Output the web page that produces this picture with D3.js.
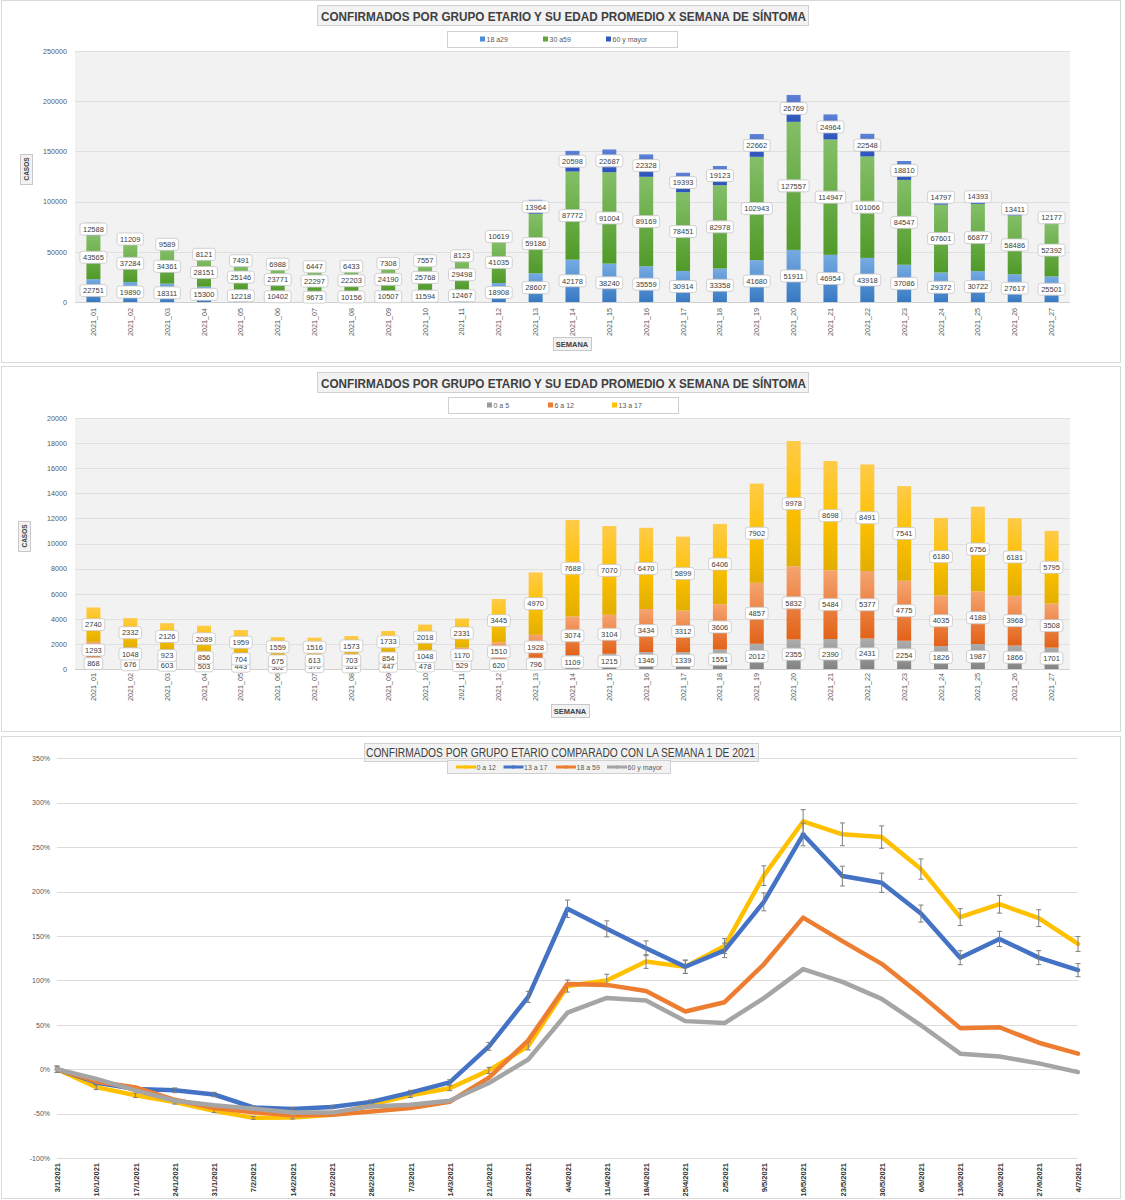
<!DOCTYPE html>
<html><head><meta charset="utf-8">
<script src="https://cdn.jsdelivr.net/npm/d3@7"></script>
<style>body{margin:0;background:#fff}svg{display:block}</style>
</head><body>
<svg id="c" width="1125" height="1200"></svg>
<script>
// ---------- DATA ----------
const weeks = ["2021_01","2021_02","2021_03","2021_04","2021_05","2021_06","2021_07","2021_08","2021_09","2021_10","2021_11","2021_12","2021_13","2021_14","2021_15","2021_16","2021_17","2021_18","2021_19","2021_20","2021_21","2021_22","2021_23","2021_24","2021_25","2021_26","2021_27"];
const g18a29 = [22751,19890,18311,15300,12218,10402,9673,10156,10507,11594,12467,18908,28607,42178,38240,35559,30914,33358,41680,51911,46954,43918,37086,29372,30722,27617,25501];
const g30a59 = [43565,37284,34361,28151,25146,23771,22297,22203,24190,25768,29498,41035,59186,87772,91004,89169,78451,82978,102943,127557,114947,101066,84547,67601,66877,58486,52392];
const g60mas = [12588,11209,9589,8121,7491,6988,6447,6433,7308,7557,8123,10619,13964,20598,22687,22328,19393,19123,22662,26769,24964,22548,18810,14797,14393,13411,12177];
const g60masShown = [1,1,1,1,1,1,1,1,1,1,1,1,1,1,1,1,1,1,1,1,1,1,1,0,0,0,0];
const g0a5 = [868,676,603,503,443,302,370,351,447,478,529,620,796,1109,1215,1346,1339,1551,2012,2355,2390,2431,2254,1826,1987,1866,1701];
const g6a12 = [1293,1048,923,856,704,675,613,703,854,1048,1170,1510,1928,3074,3104,3434,3312,3606,4857,5832,5484,5377,4775,4035,4188,3968,3508];
const g13a17 = [2740,2332,2126,2089,1959,1559,1516,1573,1733,2018,2331,3445,4970,7688,7070,6470,5899,6406,7902,9978,8698,8491,7541,6180,6756,6181,5795];
const topTicks = [0,50000,100000,150000,200000,250000];
const midTicks = [0,2000,4000,6000,8000,10000,12000,14000,16000,18000,20000];

const dates = ["3/1/2021","10/1/2021","17/1/2021","24/1/2021","31/1/2021","7/2/2021","14/2/2021","21/2/2021","28/2/2021","7/3/2021","14/3/2021","21/3/2021","28/3/2021","4/4/2021","11/4/2021","18/4/2021","25/4/2021","2/5/2021","9/5/2021","16/5/2021","23/5/2021","30/5/2021","6/6/2021","13/6/2021","20/6/2021","27/6/2021","4/7/2021"];
const pct0a12 = [0,-20.2,-29.4,-37.1,-46.9,-54.8,-54.5,-51.2,-39.8,-29.4,-21.4,-1.4,26.1,93.6,99.9,121.2,115.2,138.6,217.9,278.9,264.4,261.3,225.3,171.2,185.7,170.0,141.0];
const pct13a17 = [0,-14.9,-22.4,-23.8,-28.5,-43.1,-44.7,-42.6,-36.8,-26.4,-14.9,25.7,81.4,180.6,158.0,136.1,115.3,133.8,188.4,264.2,217.4,209.9,175.2,125.5,146.6,125.6,111.5];
const pct18a59 = [0,-13.8,-20.6,-34.5,-43.7,-48.5,-51.8,-51.2,-47.7,-43.7,-36.7,-9.6,32.4,96.0,94.9,88.1,64.9,75.4,118.1,170.6,144.1,118.6,83.4,46.2,47.2,29.8,17.5];
const pct60mas = [0,-11.0,-23.8,-35.5,-40.5,-44.5,-48.8,-48.9,-41.9,-40.0,-35.5,-15.6,10.9,63.6,80.2,77.4,54.1,51.9,80.0,112.7,98.3,79.1,49.4,17.5,14.3,6.5,-3.3];
const err0a12 = [3.5,2.8,2.5,2.2,1.9,1.6,1.6,1.7,2.1,2.5,2.8,3.5,4.4,6.8,7.0,7.7,7.5,8.4,11.1,13.3,12.8,12.6,11.4,9.5,10.0,9.5,8.4];
const err13a17 = [3.5,3.0,2.7,2.7,2.5,2.0,1.9,2.0,2.2,2.6,3.0,4.4,6.3,9.8,9.0,8.3,7.5,8.2,10.1,12.7,11.1,10.8,9.6,7.9,8.6,7.9,7.4];
const pctTicks = [-100,-50,0,50,100,150,200,250,300,350];

// ---------- DRAWING ----------
const FONT = "'Liberation Sans', Arial, sans-serif";
const svg = d3.select('#c').style('font-family', FONT);
const defs = svg.append('defs');
function grad(id, stops){
  const lg = defs.append('linearGradient').attr('id',id).attr('x1',0).attr('y1',0).attr('x2',0).attr('y2',1);
  stops.forEach(([o,c])=>lg.append('stop').attr('offset',o).attr('stop-color',c));
}
grad('gBlueL',[[0,'#76abe2'],[1,'#3779c2']]);
grad('gGreen',[[0,'#84bf68'],[1,'#519a29']]);
grad('gBlueD',[[0,'#5d82d6'],[1,'#2a52ba']]);
grad('gGray',[[0,'#adadad'],[1,'#838383']]);
grad('gOrange',[[0,'#f5a470'],[1,'#e26218']]);
grad('gYellow',[[0,'#ffcb48'],[0.55,'#fcc000'],[1,'#e2ae00']]);

function panel(y0,h){
  svg.append('rect').attr('x',1.5).attr('y',y0+0.5).attr('width',1119).attr('height',h)
    .attr('fill','#fff').attr('stroke','#d9d9d9');
}
function titleBox(bx,by,bw,bh,text,tx,ty,tl,bold,size){
  svg.append('rect').attr('x',bx+0.5).attr('y',by+0.5).attr('width',bw).attr('height',bh)
    .attr('fill','#f2f2f2').attr('stroke','#d0d0d0');
  svg.append('text').attr('x',tx).attr('y',ty).text(text)
    .attr('font-size',size).attr('font-weight',bold?'bold':'normal').attr('fill','#404040')
    .attr('textLength',tl).attr('lengthAdjust','spacingAndGlyphs');
}
function smallBox(bx,by,bw,bh,text,cx,cy,rot){
  svg.append('rect').attr('x',bx+0.5).attr('y',by+0.5).attr('width',bw).attr('height',bh)
    .attr('fill','#f2f2f2').attr('stroke','#c8c8c8');
  const t = svg.append('text').text(text).attr('font-size',rot?6.5:7.5).attr('font-weight','bold')
    .attr('fill','#404040').attr('text-anchor','middle');
  if(rot) t.attr('transform',`translate(${cx},${cy}) rotate(-90)`).attr('dy','0.35em');
  else t.attr('x',cx).attr('y',cy);
}

function stackedChart(c){
  panel(c.panelTop, c.panelH);
  titleBox(317, c.titleY, 491, 20, "CONFIRMADOS POR GRUPO ETARIO Y SU EDAD PROMEDIO X SEMANA DE SÍNTOMA", 321, c.titleY+15.5, 485, true, 13);
  svg.append('rect').attr('x',c.legX+0.5).attr('y',c.legY+0.5).attr('width',230).attr('height',16)
    .attr('fill','#fff').attr('stroke','#d0d0d0');
  c.series.forEach((s,i)=>{
    svg.append('rect').attr('x',s.legX).attr('y',c.legY+5.5).attr('width',5).attr('height',5).attr('fill',s.legColor);
    svg.append('text').attr('x',s.legX+6.5).attr('y',c.legY+10.8).text(s.name)
      .attr('font-size',7).attr('fill','#595959');
  });
  const x = d3.scaleBand().domain(weeks).range([75,1070]).paddingInner(0.62).paddingOuter(0.31);
  const y = d3.scaleLinear().domain([0,c.ticks[c.ticks.length-1]]).range([c.plotBottom,c.plotTop]);
  svg.append('rect').attr('x',75).attr('y',c.plotTop).attr('width',995).attr('height',c.plotBottom-c.plotTop).attr('fill','#f2f2f2');
  svg.append('g').selectAll('line').data(c.ticks).join('line')
    .attr('x1',75).attr('x2',1070).attr('y1',d=>Math.round(y(d))+0.5).attr('y2',d=>Math.round(y(d))+0.5)
    .attr('stroke',d=>d===0?'#d0d0d0':'#e0e0e0');
  const ya = svg.append('g').attr('transform','translate(75,0)')
    .call(d3.axisLeft(y).tickValues(c.ticks).tickSize(0).tickPadding(8).tickFormat(d3.format('d')));
  ya.select('.domain').remove();
  ya.selectAll('text').attr('font-size',7.2).attr('fill','#595959').attr('font-family',FONT);
  const xa = svg.append('g').attr('transform',`translate(0,${c.plotBottom})`)
    .call(d3.axisBottom(x).tickSize(0));
  xa.select('.domain').remove();
  xa.selectAll('text').attr('transform','rotate(-90)').attr('text-anchor','end')
    .attr('x',-c.xLabGap).attr('y',0).attr('dy','0.35em')
    .attr('font-size',7.2).attr('fill','#595959').attr('font-family',FONT);

  const rows = weeks.map((w,i)=>{ const r={week:w}; c.series.forEach(s=>r[s.key]=s.values[i]); return r; });
  const stack = d3.stack().keys(c.series.map(s=>s.key))(rows);
  stack.forEach((layer,si)=>{
    const s = c.series[si];
    svg.append('g').selectAll('rect').data(layer).join('rect')
      .attr('x',d=>x(d.data.week)).attr('width',x.bandwidth())
      .attr('y',(d,i)=> (s.shown && !s.shown[i]) ? y(d[0])-2 : y(d[1]))
      .attr('height',(d,i)=> (s.shown && !s.shown[i]) ? 2 : y(d[0])-y(d[1]))
      .attr('fill',(d,i)=> (s.shown && !s.shown[i]) ? s.legColor : `url(#${s.grad})`);
  });
  stack.forEach((layer,si)=>{
    const g = svg.append('g');
    layer.forEach(d=>{
      const cx = x(d.data.week)+x.bandwidth()/2;
      const cy = y((d[0]+d[1])/2);
      const lg = g.append('g');
      const r = lg.append('rect');
      const t = lg.append('text').attr('x',cx).attr('y',cy).attr('dy','0.36em').attr('text-anchor','middle')
        .attr('font-size',7.5).attr('fill','#404040').text(d[1]-d[0]);
      const w = t.node().getComputedTextLength()+6;
      r.attr('x',cx-w/2).attr('y',cy-6).attr('width',w).attr('height',12).attr('rx',2.5)
        .attr('fill','#fff').attr('stroke','#c6c6c6').attr('stroke-width',0.8);
    });
  });
  smallBox(c.casos[0],c.casos[1],12,30,"CASOS",c.casos[0]+6.5,c.casos[1]+15,true);
  smallBox(c.sem[0],c.sem[1],38,13,"SEMANA",c.sem[0]+19,c.sem[1]+9.8,false);
}

stackedChart({
  panelTop:0, panelH:362, titleY:5, legX:447, legY:31, plotTop:51, plotBottom:302, ticks:topTicks, xLabGap:6,
  casos:[20,154], sem:[553,337],
  series:[
    {key:'a',name:'18 a29',values:g18a29,grad:'gBlueL',legColor:'#4a8fd6',legX:480},
    {key:'b',name:'30 a59',values:g30a59,grad:'gGreen',legColor:'#5fa535',legX:543},
    {key:'c',name:'60 y mayor',values:g60mas,grad:'gBlueD',legColor:'#2f5ac2',legX:606,shown:g60masShown}
  ]
});
stackedChart({
  panelTop:366, panelH:365, titleY:372, legX:448, legY:397, plotTop:418, plotBottom:669, ticks:midTicks, xLabGap:4,
  casos:[18,521], sem:[551,704],
  series:[
    {key:'a',name:'0 a 5',values:g0a5,grad:'gGray',legColor:'#999999',legX:487},
    {key:'b',name:'6 a 12',values:g6a12,grad:'gOrange',legColor:'#ed7d31',legX:548},
    {key:'c',name:'13 a 17',values:g13a17,grad:'gYellow',legColor:'#ffc000',legX:612}
  ]
});

// ---------- LINE CHART ----------
panel(736, 462);
titleBox(364,743,394,18,"CONFIRMADOS POR GRUPO ETARIO COMPARADO CON LA SEMANA 1 DE 2021",366,756.5,389,false,12);
const lines = [
  {name:'0 a 12',values:pct0a12,err:err0a12,color:'#ffc000',lx:456},
  {name:'13 a 17',values:pct13a17,err:err13a17,color:'#4472c4',lx:503.5},
  {name:'18 a 59',values:pct18a59,color:'#ed7d31',lx:556},
  {name:'60 y mayor',values:pct60mas,color:'#a5a5a5',lx:607}
];
svg.append('rect').attr('x',447.5).attr('y',760.5).attr('width',223).attr('height',13)
  .attr('fill','#f2f2f2').attr('stroke','#d0d0d0');
lines.forEach(l=>{
  svg.append('line').attr('x1',l.lx).attr('x2',l.lx+20).attr('y1',767).attr('y2',767).attr('stroke',l.color).attr('stroke-width',3);
  svg.append('circle').attr('cx',l.lx+10).attr('cy',767).attr('r',1.8).attr('fill',l.color);
  svg.append('text').attr('x',l.lx+20.5).attr('y',769.6).text(l.name).attr('font-size',7).attr('fill','#595959');
});
const xp = d3.scalePoint().domain(dates).range([57,1078]);
const yp = d3.scaleLinear().domain([-100,350]).range([1158,758.3]);
svg.append('g').selectAll('line').data(pctTicks).join('line')
  .attr('x1',57).attr('x2',1078).attr('y1',d=>Math.round(yp(d))+0.5).attr('y2',d=>Math.round(yp(d))+0.5)
  .attr('stroke','#dcdcdc');
const ypa = svg.append('g').attr('transform','translate(57,0)')
  .call(d3.axisLeft(yp).tickValues(pctTicks).tickSize(0).tickPadding(7).tickFormat(d=>d+'%'));
ypa.select('.domain').remove();
ypa.selectAll('text').attr('font-size',7).attr('fill','#595959').attr('font-family',FONT);
const xpa = svg.append('g').attr('transform','translate(0,1158)').call(d3.axisBottom(xp).tickSize(0));
xpa.select('.domain').remove();
xpa.selectAll('text').attr('transform','rotate(-90)').attr('text-anchor','end')
  .attr('x',-5).attr('y',0).attr('dy','0.35em').attr('font-size',7.5).attr('font-weight','bold')
  .attr('fill','#333').attr('font-family',FONT);
const lineGen = d3.line().x((d,i)=>xp(dates[i])).y(d=>yp(d));
lines.forEach(l=>{
  svg.append('path').attr('d',lineGen(l.values)).attr('fill','none').attr('stroke',l.color)
    .attr('stroke-width',4.5).attr('stroke-linejoin','round').attr('stroke-linecap','round');
  if(l.err){
    const g = svg.append('g').attr('stroke','#7f7f7f').attr('stroke-width',1);
    l.values.forEach((v,i)=>{
      const cx = xp(dates[i]), y1 = yp(v+l.err[i]), y2 = yp(v-l.err[i]);
      g.append('line').attr('x1',cx).attr('x2',cx).attr('y1',y1).attr('y2',y2);
      g.append('line').attr('x1',cx-2.5).attr('x2',cx+2.5).attr('y1',y1).attr('y2',y1);
      g.append('line').attr('x1',cx-2.5).attr('x2',cx+2.5).attr('y1',y2).attr('y2',y2);
    });
  }
});
</script>
</body></html>
